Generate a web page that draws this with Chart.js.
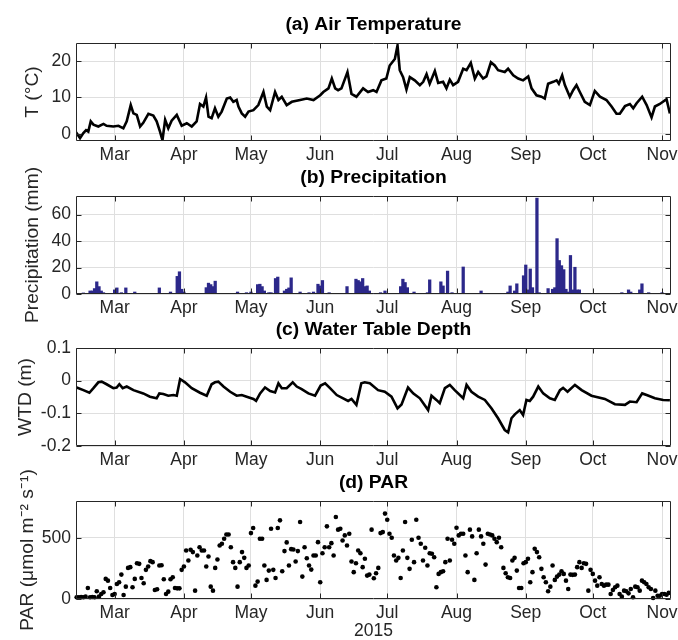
<!DOCTYPE html>
<html>
<head>
<meta charset="utf-8">
<script src="https://cdn.jsdelivr.net/npm/chart.js@4.4.1/dist/chart.umd.min.js"></script>
<style>
  html, body { margin: 0; padding: 0; background: #fff; overflow: hidden; }
  #wrap { position: relative; width: 678px; height: 640px; }
  #wrap canvas { position: absolute; left: 0; top: 0; }
</style>
</head>
<body>
<div id="wrap">
  <canvas id="cTemp" width="678" height="640"></canvas>
  <canvas id="cPrec" width="678" height="640"></canvas>
  <canvas id="cWtd" width="678" height="640"></canvas>
  <canvas id="cPar" width="678" height="640"></canvas>
</div>
<script>
// x axis is day of year 2015; ticks sit on the first of each month
var monthDays = [60, 91, 121, 152, 182, 213, 244, 274, 305];
var monthLabels = ['Mar', 'Apr', 'May', 'Jun', 'Jul', 'Aug', 'Sep', 'Oct', 'Nov'];
var dayMin = 42.7, dayMax = 309;

// (a) air temperature, degC
var tempTicks = [0, 10, 20];
var tDay = [42.7,44.5,46.0,47.2,48.2,49.3,50.5,52.7,55.0,56.4,
  59.4,61.7,63.9,65.4,67.2,68.4,69.9,71.4,72.8,75.1,
  77.3,78.8,80.3,81.4,82.6,84.0,85.5,87.8,90.0,92.3,
  94.5,96.7,98.2,99.7,100.9,102.0,103.4,104.9,106.4,107.9,
  110.2,111.7,113.1,114.6,115.4,116.9,118.4,119.9,122.1,124.3,
  126.6,128.1,129.6,131.8,133.3,134.8,137.0,139.3,143.0,146.0,
  149.0,152.0,153.4,155.7,157.2,158.7,160.0,161.5,164.2,166.0,
  168.2,171.2,173.4,175.7,177.2,179.4,181.6,183.1,185.4,186.6,
  187.6,189.1,190.6,192.1,194.3,196.6,198.1,199.6,201.0,203.3,
  204.8,207.0,208.5,210.0,211.5,213.7,216.0,217.5,219.4,221.2,
  222.7,224.9,226.4,228.4,230.1,231.6,234.6,236.1,238.4,240.6,
  242.8,245.1,246.6,248.8,251.0,252.5,254.0,256.3,257.8,258.8,
  260.3,261.5,263.7,265.2,266.7,268.2,270.4,272.7,274.9,277.2,
  280.1,282.4,284.6,286.1,288.4,290.6,292.1,293.6,296.1,298.1,
  300.3,301.8,304.0,307.0,308.5];
var tVal = [0.4,-1.2,0.2,1.0,0.6,3.4,2.5,2.0,2.7,2.2,
  2.0,2.2,1.5,3.4,7.9,5.6,5.2,2.0,3.0,5.5,
  5.0,3.4,0.6,-1.8,3.8,1.5,3.6,5.2,2.2,2.9,
  2.0,3.4,8.2,7.5,10.0,4.7,4.3,7.0,4.7,6.1,
  9.7,10.0,8.8,9.3,7.5,5.6,4.7,6.1,6.5,7.9,
  11.5,7.5,6.5,11.5,9.3,10.2,7.9,8.8,9.3,9.7,
  9.3,10.6,11.5,12.5,15.2,12.5,12.0,12.5,17.0,11.0,
  10.2,12.5,11.5,12.0,11.5,14.7,15.2,18.8,20.6,24.3,
  17.5,15.6,12.2,15.6,14.7,13.4,14.3,16.4,13.8,17.3,
  14.0,14.3,12.5,14.9,13.4,14.3,17.9,17.5,19.5,15.2,
  17.0,15.2,15.8,19.7,18.8,17.5,17.0,17.9,16.1,15.2,
  14.7,15.8,12.5,10.6,10.2,9.7,13.8,14.3,14.7,13.8,
  16.1,13.4,10.2,12.0,13.4,11.5,8.8,7.9,11.8,10.2,
  9.3,7.5,5.5,5.5,7.6,8.2,7.0,8.4,10.2,7.9,
  4.5,7.5,8.2,9.5,5.6];

// (b) daily precipitation, mm (days without rain left out)
var precTicks = [0, 20, 40, 60];
var pDay = [46,49,50,51,52,53,54,55,60,61,63,65,69,80,85,88,89,90,91,101,
  102,103,104,105,115,119,121,124,125,126,127,129,130,132,133,136,137,138,139,143,
  147,149,151,152,153,156,164,168,169,170,171,172,173,174,179,181,188,189,190,191,
  194,200,201,206,207,209,211,216,224,236,237,239,240,243,244,245,246,247,249,250,
  254,256,257,258,259,260,261,262,263,264,265,266,267,268,287,290,291,295,296,299,305];
var pVal = [0.8,2.3,2.3,4.1,9.2,5.6,2.3,1.0,3.1,4.6,1.0,4.6,1.5,4.6,1.5,13.3,16.8,3.6,1.5,4.8,
  8.2,7.1,5.6,9.7,1.5,1.0,1.5,7.1,7.4,5.6,2.3,1.0,1.0,11.7,12.8,2.3,3.6,4.6,12.2,1.5,
  1.0,1.5,7.4,6.1,10.2,1.0,5.6,11.2,10.2,9.2,11.7,5.6,6.1,2.3,1.0,2.3,5.6,11.2,8.7,4.8,
  1.5,1.0,10.7,9.2,6.1,17.3,1.0,20.4,2.3,1.5,6.1,2.3,7.7,13.8,21.9,3.1,18.9,4.8,72.4,1.0,
  4.1,3.6,4.8,41.8,25.3,21.4,18.4,3.6,1.5,29.1,3.1,20.2,3.1,3.1,1.0,3.1,1.5,3.1,7.7,1.0,1.0];

// (c) water table depth, m
var wtdTicks = [-0.2, -0.1, 0, 0.1];
var wDay = [43.0,46.0,48.7,50.5,52.7,54.2,56.4,59.4,60.9,62.1,
  63.6,65.4,68.4,72.8,75.8,78.8,80.0,81.8,84.0,86.3,
  87.8,89.3,91.5,94.5,98.2,101.2,103.4,104.9,106.4,108.7,
  111.7,114.6,116.9,119.1,122.1,123.3,125.1,127.3,129.6,131.8,
  133.3,134.8,137.0,139.7,141.5,143.7,146.7,149.7,152.2,154.2,
  156.4,159.4,164.5,166.0,168.2,170.4,171.9,174.2,177.9,180.9,
  183.9,186.6,188.4,191.3,193.6,196.6,200.3,201.8,204.0,205.5,
  207.8,210.0,212.2,216.0,217.5,219.7,222.7,225.7,228.7,231.6,
  234.6,236.1,237.6,239.1,241.3,242.8,244.3,245.8,247.3,249.6,
  251.8,254.8,257.0,259.3,260.7,262.7,266.0,269.0,273.4,279.4,
  283.9,288.4,290.6,293.6,296.1,298.1,301.8,305.5,308.5];
var wVal = [-0.021,-0.029,-0.037,-0.023,-0.005,-0.003,-0.011,-0.023,-0.021,-0.011,
  -0.023,-0.018,-0.029,-0.039,-0.049,-0.054,-0.039,-0.041,-0.046,-0.044,
  -0.046,0.005,-0.005,-0.023,-0.037,-0.046,-0.011,-0.005,-0.003,-0.018,
  -0.034,-0.046,-0.044,-0.049,-0.056,-0.062,-0.039,-0.021,-0.032,-0.036,
  -0.008,-0.023,-0.023,-0.005,-0.018,-0.026,-0.039,-0.046,-0.015,-0.008,
  -0.023,-0.044,-0.062,-0.056,-0.074,-0.008,-0.005,-0.008,-0.029,-0.034,
  -0.049,-0.085,-0.073,-0.021,-0.039,-0.054,-0.090,-0.046,-0.059,-0.069,
  -0.023,-0.013,-0.029,-0.054,-0.013,-0.034,-0.049,-0.059,-0.085,-0.115,
  -0.151,-0.158,-0.115,-0.103,-0.090,-0.105,-0.059,-0.062,-0.049,-0.018,
  -0.039,-0.054,-0.059,-0.029,-0.022,-0.034,-0.013,-0.029,-0.046,-0.056,
  -0.072,-0.074,-0.064,-0.066,-0.039,-0.044,-0.054,-0.059,-0.060];

// (d) daily PAR, one value per day from parStart
var parTicks = [0, 500];
var parStart = 43;
var parVal = [14,14,16,14,19,90,14,16,14,63,
  19,41,55,164,150,90,33,41,123,137,
  199,33,101,254,260,96,164,292,287,172,
  128,238,265,309,301,74,79,273,276,161,
  41,60,161,178,90,87,87,238,265,396,
  314,402,383,68,355,423,396,396,265,347,
  101,68,254,322,437,451,492,527,527,423,
  301,254,101,301,383,336,254,273,538,579,
  109,142,492,492,273,156,232,574,238,172,
  579,642,227,391,462,273,407,404,306,391,
  628,183,423,333,273,240,355,355,464,137,
  374,423,593,423,456,355,669,
  566,574,478,519,437,533,306,219,292,396,
  374,260,328,191,199,566,169,210,254,538,
  546,697,647,533,500,355,314,336,172,396,
  628,336,246,484,301,647,500,451,314,418,
  273,374,369,341,96,205,219,227,301,492,
  314,484,451,582,519,533,533,355,219,566,
  511,156,374,566,511,451,281,533,527,519,
  492,464,500,423,254,210,178,172,314,336,
  232,90,90,292,301,328,137,219,410,383,
  341,246,178,137,63,101,273,156,183,199,
  227,205,150,82,199,197,199,260,301,254,
  292,287,68,238,205,150,109,178,123,109,
  117,117,41,74,96,109,41,19,68,63,
  46,82,14,101,96,68,150,137,123,96,
  82,8,68,27,27,41,41,35,50];

var FONT = "'Liberation Sans', Arial, Helvetica, sans-serif";
var INK = '#262626';
var GRID = '#dfdfdf';
var BAR = '#2c288a';
var PLOT_H = 98;

Chart.defaults.font.family = FONT;
Chart.defaults.color = INK;

function pairs(xs, ys) {
  return xs.map(function(x, i) { return { x: x, y: ys[i] }; });
}

// axes box with inward ticks on all four sides, plus the bold panel heading
var frame = {
  id: 'frame',
  afterDatasetsDraw: function(chart, args, opts) {
    var ctx = chart.ctx, a = chart.chartArea;
    var xs = chart.scales.x, ys = chart.scales.y;
    var L = Math.round(a.left) + 0.5, R = Math.round(a.right) - 0.5;
    var T = Math.round(a.top) + 0.5, B = Math.round(a.bottom) - 0.5;
    ctx.save();
    ctx.lineWidth = 1;
    ctx.strokeStyle = INK;
    ctx.beginPath();
    xs.ticks.forEach(function(t) {
      var p = Math.round(xs.getPixelForValue(t.value)) + 0.5;
      ctx.moveTo(p, B); ctx.lineTo(p, B - 5);
      ctx.moveTo(p, T); ctx.lineTo(p, T + 5);
    });
    ys.ticks.forEach(function(t) {
      var p = Math.round(ys.getPixelForValue(t.value)) + 0.5;
      ctx.moveTo(L, p); ctx.lineTo(L + 5, p);
      ctx.moveTo(R, p); ctx.lineTo(R - 5, p);
    });
    ctx.rect(L, T, R - L, B - T);
    ctx.stroke();
    ctx.fillStyle = '#000';
    ctx.font = 'bold 19.25px ' + FONT;
    ctx.textAlign = 'center';
    ctx.textBaseline = 'middle';
    ctx.fillText(opts.heading, (a.left + a.right) / 2, a.top - 18);
    ctx.restore();
  }
};

function panel(id, type, cfg) {
  var axisH = cfg.axisH || 30;
  return new Chart(document.getElementById(id), {
    type: type,
    data: { datasets: cfg.datasets },
    plugins: [frame],
    options: {
      responsive: false,
      animation: false,
      devicePixelRatio: 1,
      layout: { padding: { top: cfg.top, right: 7, left: 0, bottom: 640 - cfg.top - PLOT_H - axisH } },
      plugins: {
        legend: { display: false },
        tooltip: { enabled: false },
        frame: { heading: cfg.heading }
      },
      scales: {
        x: {
          type: 'linear', min: dayMin, max: dayMax, offset: false,
          afterBuildTicks: function(s) { s.ticks = monthDays.map(function(d) { return { value: d }; }); },
          afterFit: function(s) { s.height = axisH; s.paddingLeft = 0; s.paddingRight = 0; },
          grid: { color: GRID, drawTicks: false, offset: false },
          border: { display: false },
          ticks: {
            padding: 4, autoSkip: false, maxRotation: 0, color: INK,
            font: { size: 17.5 },
            callback: function(v, i) { return monthLabels[i]; }
          },
          title: cfg.xTitle ? {
            display: true, text: cfg.xTitle, color: INK,
            font: { size: 17.5, lineHeight: 1 }, padding: { top: 0, bottom: 0 }
          } : { display: false }
        },
        y: {
          type: 'linear', min: cfg.yMin, max: cfg.yMax,
          afterBuildTicks: function(s) { s.ticks = cfg.yTicks.map(function(v) { return { value: v }; }); },
          afterFit: function(s) { s.width = 76; s.paddingTop = 0; s.paddingBottom = 0; },
          grid: { color: GRID, drawTicks: false },
          border: { display: false },
          ticks: {
            padding: 5, color: INK, font: { size: 17.5 },
            callback: function(v) { return String(v); }
          },
          title: {
            display: true, text: cfg.yTitle, color: INK,
            font: { size: 19.25, lineHeight: 1 },
            padding: { top: cfg.yTitlePad, bottom: 0 }
          }
        }
      }
    }
  });
}

panel('cTemp', 'line', {
  top: 43, heading: '(a) Air Temperature',
  yMin: -2, yMax: 25, yTicks: tempTicks, yTitle: 'T (\u00B0C)', yTitlePad: 23,
  datasets: [{
    data: pairs(tDay, tVal), borderColor: '#000', borderWidth: 2.6,
    pointRadius: 0, tension: 0
  }]
});

panel('cPrec', 'bar', {
  top: 196, heading: '(b) Precipitation',
  yMin: 0, yMax: 74, yTicks: precTicks, yTitle: 'Precipitation (mm)', yTitlePad: 23,
  datasets: [{
    type: 'bar', data: pairs(pDay, pVal), backgroundColor: BAR,
    borderWidth: 0, barThickness: 2.6
  }, {
    // zero baseline under the bars
    type: 'line', data: [{ x: dayMin, y: 0 }, { x: dayMax, y: 0 }],
    borderColor: BAR, borderWidth: 1.5, pointRadius: 0
  }]
});

panel('cWtd', 'line', {
  top: 348, heading: '(c) Water Table Depth',
  yMin: -0.2, yMax: 0.1, yTicks: wtdTicks, yTitle: 'WTD (m)', yTitlePad: 16,
  datasets: [{
    data: pairs(wDay, wVal), borderColor: '#000', borderWidth: 2.6,
    pointRadius: 0, tension: 0
  }]
});

panel('cPar', 'scatter', {
  top: 501, axisH: 41, heading: '(d) PAR', xTitle: '2015',
  yMin: 0, yMax: 800, yTicks: parTicks,
  yTitle: 'PAR (\u03BCmol m\u207B\u00B2 s\u207B\u00B9)', yTitlePad: 18,
  datasets: [{
    data: parVal.map(function(v, i) { return { x: parStart + i, y: v }; }),
    backgroundColor: '#000', borderWidth: 0, pointRadius: 2.3, clip: false
  }]
});
</script>
</body>
</html>
